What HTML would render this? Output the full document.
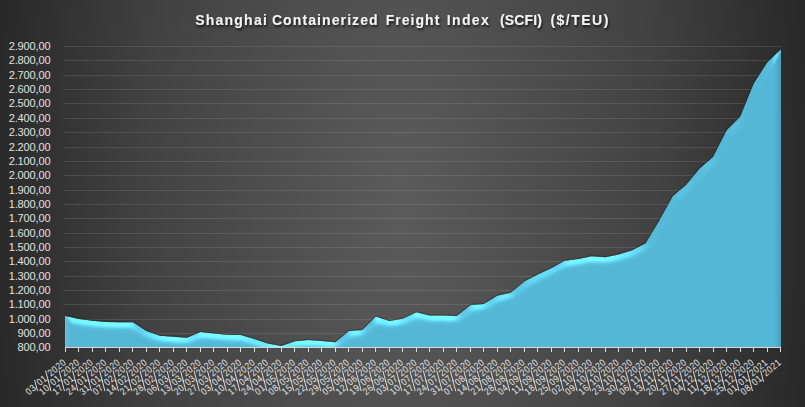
<!DOCTYPE html>
<html><head><meta charset="utf-8"><style>
html,body{margin:0;padding:0;width:805px;height:407px;overflow:hidden;background:#2a2a2a}
svg{display:block}
text{font-family:"Liberation Sans",sans-serif;stroke:none}

</style></head><body>
<svg width="805" height="407" viewBox="0 0 805 407">
<defs>
<radialGradient id="bg" cx="402" cy="203" r="430" gradientUnits="userSpaceOnUse" gradientTransform="translate(402,203) scale(1,2.0) translate(-402,-203)">
<stop offset="0" stop-color="#5b5b5b"/>
<stop offset="0.6" stop-color="#424242"/>
<stop offset="1" stop-color="#252525"/>
</radialGradient>
<filter id="tsh" x="-5%" y="-50%" width="110%" height="200%"><feGaussianBlur in="SourceAlpha" stdDeviation="1.2"/><feOffset dx="1" dy="1.5"/><feComponentTransfer><feFuncA type="linear" slope="0.7"/></feComponentTransfer><feMerge><feMergeNode/><feMergeNode in="SourceGraphic"/></feMerge></filter>
<filter id="bevel" x="-2%" y="-5%" width="104%" height="110%" color-interpolation-filters="sRGB">

<feGaussianBlur in="SourceAlpha" stdDeviation="4.0" result="b"/>
<feSpecularLighting in="b" surfaceScale="5.0" specularConstant="1.0" specularExponent="16.0" lighting-color="#80ffff" result="lit"><feDistantLight azimuth="270.0" elevation="10.0"/></feSpecularLighting>
<feComposite in="SourceGraphic" in2="lit" operator="arithmetic" k1="0" k2="1" k3="0.28" k4="0.0" result="sh"/>
<feComposite in="sh" in2="SourceAlpha" operator="in"/>
</filter>
<linearGradient id="rshade" x1="0" y1="0" x2="1" y2="0"><stop offset="0" stop-color="#000" stop-opacity="0"/><stop offset="1" stop-color="#000" stop-opacity="0.14"/></linearGradient>
<linearGradient id="lshade" x1="0" y1="0" x2="1" y2="0"><stop offset="0" stop-color="#fff" stop-opacity="0.12"/><stop offset="1" stop-color="#fff" stop-opacity="0"/></linearGradient>
<clipPath id="clipB"><rect x="0" y="0" width="805" height="347.5"/></clipPath>
<clipPath id="clipA"><path d="M65.0,347.6 L65.0,315.90 L65.50,315.90 78.99,318.91 92.48,320.77 105.97,321.92 119.46,322.21 132.95,322.21 146.44,331.10 159.93,335.69 173.42,336.70 186.92,337.70 200.41,331.96 213.90,333.54 227.39,334.83 240.88,334.98 254.37,338.99 267.86,343.58 281.35,345.88 294.84,341.29 308.33,340.00 321.82,341.00 335.31,342.15 348.80,331.10 362.29,329.96 375.78,316.61 389.27,320.92 402.76,318.77 416.25,312.31 429.75,315.47 443.24,315.47 456.73,316.04 470.22,305.14 483.71,303.99 497.20,295.67 510.69,292.66 524.18,281.61 537.67,274.44 551.16,268.27 564.65,260.81 578.14,258.95 591.63,256.22 605.12,257.23 618.61,254.50 632.10,250.34 645.59,243.17 659.08,220.64 672.58,196.26 686.07,184.78 699.56,168.57 713.05,156.66 726.54,130.13 740.03,116.64 753.52,83.65 767.01,62.56 780.50,49.51 L781.0,49.51 L781.0,347.6 Z"/></clipPath>
</defs>
<rect width="805" height="407" fill="url(#bg)"/>
<g font-size="14" font-weight="bold" fill="#f4f4f4" filter="url(#tsh)"><text y="25"><tspan x="195.2" letter-spacing="1.23">Shanghai</tspan><tspan x="271.9" letter-spacing="1.1">Containerized</tspan><tspan x="385.7" letter-spacing="1.03">Freight</tspan><tspan x="446.8" letter-spacing="1.35">Index</tspan><tspan x="500.1" letter-spacing="0.1">(SCFI)</tspan><tspan x="550.4" letter-spacing="1.5">($/TEU)</tspan></text></g>
<g stroke="#ffffff" stroke-opacity="0.11" stroke-width="1"><line x1="64" y1="333.5" x2="781" y2="333.5"/><line x1="64" y1="319.5" x2="781" y2="319.5"/><line x1="64" y1="304.5" x2="781" y2="304.5"/><line x1="64" y1="290.5" x2="781" y2="290.5"/><line x1="64" y1="276.5" x2="781" y2="276.5"/><line x1="64" y1="261.5" x2="781" y2="261.5"/><line x1="64" y1="247.5" x2="781" y2="247.5"/><line x1="64" y1="233.5" x2="781" y2="233.5"/><line x1="64" y1="218.5" x2="781" y2="218.5"/><line x1="64" y1="204.5" x2="781" y2="204.5"/><line x1="64" y1="190.5" x2="781" y2="190.5"/><line x1="64" y1="175.5" x2="781" y2="175.5"/><line x1="64" y1="161.5" x2="781" y2="161.5"/><line x1="64" y1="147.5" x2="781" y2="147.5"/><line x1="64" y1="132.5" x2="781" y2="132.5"/><line x1="64" y1="118.5" x2="781" y2="118.5"/><line x1="64" y1="103.5" x2="781" y2="103.5"/><line x1="64" y1="89.5" x2="781" y2="89.5"/><line x1="64" y1="75.5" x2="781" y2="75.5"/><line x1="64" y1="60.5" x2="781" y2="60.5"/><line x1="64" y1="46.5" x2="781" y2="46.5"/></g>
<g font-size="11" fill="#e2e2e2" text-anchor="end" letter-spacing="-0.12"><text x="50.5" y="351.30">800,00</text><text x="50.5" y="337.30">900,00</text><text x="50.5" y="323.30">1.000,00</text><text x="50.5" y="308.30">1.100,00</text><text x="50.5" y="294.30">1.200,00</text><text x="50.5" y="280.30">1.300,00</text><text x="50.5" y="265.30">1.400,00</text><text x="50.5" y="251.30">1.500,00</text><text x="50.5" y="237.30">1.600,00</text><text x="50.5" y="222.30">1.700,00</text><text x="50.5" y="208.30">1.800,00</text><text x="50.5" y="194.30">1.900,00</text><text x="50.5" y="179.30">2.000,00</text><text x="50.5" y="165.30">2.100,00</text><text x="50.5" y="151.30">2.200,00</text><text x="50.5" y="136.30">2.300,00</text><text x="50.5" y="122.30">2.400,00</text><text x="50.5" y="107.30">2.500,00</text><text x="50.5" y="93.30">2.600,00</text><text x="50.5" y="79.30">2.700,00</text><text x="50.5" y="64.30">2.800,00</text><text x="50.5" y="50.30">2.900,00</text></g>
<path d="M65.50,315.90 L78.99,318.91 L92.48,320.77 L105.97,321.92 L119.46,322.21 L132.95,322.21 L146.44,331.10 L159.93,335.69 L173.42,336.70 L186.92,337.70 L200.41,331.96 L213.90,333.54 L227.39,334.83 L240.88,334.98 L254.37,338.99 L267.86,343.58 L281.35,345.88 L294.84,341.29 L308.33,340.00 L321.82,341.00 L335.31,342.15 L348.80,331.10 L362.29,329.96 L375.78,316.61 L389.27,320.92 L402.76,318.77 L416.25,312.31 L429.75,315.47 L443.24,315.47 L456.73,316.04 L470.22,305.14 L483.71,303.99 L497.20,295.67 L510.69,292.66 L524.18,281.61 L537.67,274.44 L551.16,268.27 L564.65,260.81 L578.14,258.95 L591.63,256.22 L605.12,257.23 L618.61,254.50 L632.10,250.34 L645.59,243.17 L659.08,220.64 L672.58,196.26 L686.07,184.78 L699.56,168.57 L713.05,156.66 L726.54,130.13 L740.03,116.64 L753.52,83.65 L767.01,62.56 L780.50,49.51" transform="translate(0,-0.6)" fill="none" stroke="#1a1a1a" stroke-width="1.1" stroke-opacity="0.32"/>
<g clip-path="url(#clipB)"><path d="M65.0,370 L65.0,315.90 L65.50,315.90 78.99,318.91 92.48,320.77 105.97,321.92 119.46,322.21 132.95,322.21 146.44,331.10 159.93,335.69 173.42,336.70 186.92,337.70 200.41,331.96 213.90,333.54 227.39,334.83 240.88,334.98 254.37,338.99 267.86,343.58 281.35,345.88 294.84,341.29 308.33,340.00 321.82,341.00 335.31,342.15 348.80,331.10 362.29,329.96 375.78,316.61 389.27,320.92 402.76,318.77 416.25,312.31 429.75,315.47 443.24,315.47 456.73,316.04 470.22,305.14 483.71,303.99 497.20,295.67 510.69,292.66 524.18,281.61 537.67,274.44 551.16,268.27 564.65,260.81 578.14,258.95 591.63,256.22 605.12,257.23 618.61,254.50 632.10,250.34 645.59,243.17 659.08,220.64 672.58,196.26 686.07,184.78 699.56,168.57 713.05,156.66 726.54,130.13 740.03,116.64 753.52,83.65 767.01,62.56 780.50,49.51 L781.0,49.51 L781.0,370 Z" fill="#54b6d5" filter="url(#bevel)"/></g>
<g clip-path="url(#clipA)"><rect x="774" y="40" width="7.5" height="310" fill="url(#rshade)"/><rect x="64.5" y="300" width="6" height="50" fill="url(#lshade)"/></g>
<g stroke="#d9d9d9" stroke-width="1"><line x1="65" y1="347.5" x2="781" y2="347.5"/><line x1="65.5" y1="347" x2="65.5" y2="352"/><line x1="78.5" y1="347" x2="78.5" y2="352"/><line x1="92.5" y1="347" x2="92.5" y2="352"/><line x1="105.5" y1="347" x2="105.5" y2="352"/><line x1="119.5" y1="347" x2="119.5" y2="352"/><line x1="132.5" y1="347" x2="132.5" y2="352"/><line x1="146.5" y1="347" x2="146.5" y2="352"/><line x1="159.5" y1="347" x2="159.5" y2="352"/><line x1="173.5" y1="347" x2="173.5" y2="352"/><line x1="186.5" y1="347" x2="186.5" y2="352"/><line x1="200.5" y1="347" x2="200.5" y2="352"/><line x1="213.5" y1="347" x2="213.5" y2="352"/><line x1="227.5" y1="347" x2="227.5" y2="352"/><line x1="240.5" y1="347" x2="240.5" y2="352"/><line x1="254.5" y1="347" x2="254.5" y2="352"/><line x1="267.5" y1="347" x2="267.5" y2="352"/><line x1="281.5" y1="347" x2="281.5" y2="352"/><line x1="294.5" y1="347" x2="294.5" y2="352"/><line x1="308.5" y1="347" x2="308.5" y2="352"/><line x1="321.5" y1="347" x2="321.5" y2="352"/><line x1="335.5" y1="347" x2="335.5" y2="352"/><line x1="348.5" y1="347" x2="348.5" y2="352"/><line x1="362.5" y1="347" x2="362.5" y2="352"/><line x1="375.5" y1="347" x2="375.5" y2="352"/><line x1="389.5" y1="347" x2="389.5" y2="352"/><line x1="402.5" y1="347" x2="402.5" y2="352"/><line x1="416.5" y1="347" x2="416.5" y2="352"/><line x1="429.5" y1="347" x2="429.5" y2="352"/><line x1="443.5" y1="347" x2="443.5" y2="352"/><line x1="456.5" y1="347" x2="456.5" y2="352"/><line x1="470.5" y1="347" x2="470.5" y2="352"/><line x1="483.5" y1="347" x2="483.5" y2="352"/><line x1="497.5" y1="347" x2="497.5" y2="352"/><line x1="510.5" y1="347" x2="510.5" y2="352"/><line x1="524.5" y1="347" x2="524.5" y2="352"/><line x1="537.5" y1="347" x2="537.5" y2="352"/><line x1="551.5" y1="347" x2="551.5" y2="352"/><line x1="564.5" y1="347" x2="564.5" y2="352"/><line x1="578.5" y1="347" x2="578.5" y2="352"/><line x1="591.5" y1="347" x2="591.5" y2="352"/><line x1="605.5" y1="347" x2="605.5" y2="352"/><line x1="618.5" y1="347" x2="618.5" y2="352"/><line x1="632.5" y1="347" x2="632.5" y2="352"/><line x1="645.5" y1="347" x2="645.5" y2="352"/><line x1="659.5" y1="347" x2="659.5" y2="352"/><line x1="672.5" y1="347" x2="672.5" y2="352"/><line x1="686.5" y1="347" x2="686.5" y2="352"/><line x1="699.5" y1="347" x2="699.5" y2="352"/><line x1="713.5" y1="347" x2="713.5" y2="352"/><line x1="726.5" y1="347" x2="726.5" y2="352"/><line x1="740.5" y1="347" x2="740.5" y2="352"/><line x1="753.5" y1="347" x2="753.5" y2="352"/><line x1="767.5" y1="347" x2="767.5" y2="352"/><line x1="780.5" y1="347" x2="780.5" y2="352"/></g>
<g font-size="9.80" letter-spacing="0.692" fill="#e6e6e6" stroke="#dedede" stroke-width="0.95" text-anchor="end"><g transform="translate(66.55,363.8) rotate(-40.0)"><text transform="translate(0.59,0) scale(0.85,1)">2020</text><text transform="translate(-24.27,0) scale(0.85,1)">01</text><text transform="translate(-38.69,0) scale(0.85,1)">03</text><line x1="-25.32" y1="2.20" x2="-20.42" y2="-8.30"/><line x1="-39.74" y1="2.20" x2="-34.84" y2="-8.30"/></g><g transform="translate(80.04,363.8) rotate(-40.0)"><text transform="translate(0.59,0) scale(0.85,1)">2020</text><text transform="translate(-24.27,0) scale(0.85,1)">01</text><text transform="translate(-38.69,0) scale(0.85,1)">10</text><line x1="-25.32" y1="2.20" x2="-20.42" y2="-8.30"/><line x1="-39.74" y1="2.20" x2="-34.84" y2="-8.30"/></g><g transform="translate(93.53,363.8) rotate(-40.0)"><text transform="translate(0.59,0) scale(0.85,1)">2020</text><text transform="translate(-24.27,0) scale(0.85,1)">01</text><text transform="translate(-38.69,0) scale(0.85,1)">17</text><line x1="-25.32" y1="2.20" x2="-20.42" y2="-8.30"/><line x1="-39.74" y1="2.20" x2="-34.84" y2="-8.30"/></g><g transform="translate(107.02,363.8) rotate(-40.0)"><text transform="translate(0.59,0) scale(0.85,1)">2020</text><text transform="translate(-24.27,0) scale(0.85,1)">01</text><text transform="translate(-38.69,0) scale(0.85,1)">24</text><line x1="-25.32" y1="2.20" x2="-20.42" y2="-8.30"/><line x1="-39.74" y1="2.20" x2="-34.84" y2="-8.30"/></g><g transform="translate(120.51,363.8) rotate(-40.0)"><text transform="translate(0.59,0) scale(0.85,1)">2020</text><text transform="translate(-24.27,0) scale(0.85,1)">01</text><text transform="translate(-38.69,0) scale(0.85,1)">31</text><line x1="-25.32" y1="2.20" x2="-20.42" y2="-8.30"/><line x1="-39.74" y1="2.20" x2="-34.84" y2="-8.30"/></g><g transform="translate(134.00,363.8) rotate(-40.0)"><text transform="translate(0.59,0) scale(0.85,1)">2020</text><text transform="translate(-24.27,0) scale(0.85,1)">02</text><text transform="translate(-38.69,0) scale(0.85,1)">07</text><line x1="-25.32" y1="2.20" x2="-20.42" y2="-8.30"/><line x1="-39.74" y1="2.20" x2="-34.84" y2="-8.30"/></g><g transform="translate(147.49,363.8) rotate(-40.0)"><text transform="translate(0.59,0) scale(0.85,1)">2020</text><text transform="translate(-24.27,0) scale(0.85,1)">02</text><text transform="translate(-38.69,0) scale(0.85,1)">14</text><line x1="-25.32" y1="2.20" x2="-20.42" y2="-8.30"/><line x1="-39.74" y1="2.20" x2="-34.84" y2="-8.30"/></g><g transform="translate(160.98,363.8) rotate(-40.0)"><text transform="translate(0.59,0) scale(0.85,1)">2020</text><text transform="translate(-24.27,0) scale(0.85,1)">02</text><text transform="translate(-38.69,0) scale(0.85,1)">21</text><line x1="-25.32" y1="2.20" x2="-20.42" y2="-8.30"/><line x1="-39.74" y1="2.20" x2="-34.84" y2="-8.30"/></g><g transform="translate(174.47,363.8) rotate(-40.0)"><text transform="translate(0.59,0) scale(0.85,1)">2020</text><text transform="translate(-24.27,0) scale(0.85,1)">02</text><text transform="translate(-38.69,0) scale(0.85,1)">28</text><line x1="-25.32" y1="2.20" x2="-20.42" y2="-8.30"/><line x1="-39.74" y1="2.20" x2="-34.84" y2="-8.30"/></g><g transform="translate(187.97,363.8) rotate(-40.0)"><text transform="translate(0.59,0) scale(0.85,1)">2020</text><text transform="translate(-24.27,0) scale(0.85,1)">03</text><text transform="translate(-38.69,0) scale(0.85,1)">06</text><line x1="-25.32" y1="2.20" x2="-20.42" y2="-8.30"/><line x1="-39.74" y1="2.20" x2="-34.84" y2="-8.30"/></g><g transform="translate(201.46,363.8) rotate(-40.0)"><text transform="translate(0.59,0) scale(0.85,1)">2020</text><text transform="translate(-24.27,0) scale(0.85,1)">03</text><text transform="translate(-38.69,0) scale(0.85,1)">13</text><line x1="-25.32" y1="2.20" x2="-20.42" y2="-8.30"/><line x1="-39.74" y1="2.20" x2="-34.84" y2="-8.30"/></g><g transform="translate(214.95,363.8) rotate(-40.0)"><text transform="translate(0.59,0) scale(0.85,1)">2020</text><text transform="translate(-24.27,0) scale(0.85,1)">03</text><text transform="translate(-38.69,0) scale(0.85,1)">20</text><line x1="-25.32" y1="2.20" x2="-20.42" y2="-8.30"/><line x1="-39.74" y1="2.20" x2="-34.84" y2="-8.30"/></g><g transform="translate(228.44,363.8) rotate(-40.0)"><text transform="translate(0.59,0) scale(0.85,1)">2020</text><text transform="translate(-24.27,0) scale(0.85,1)">03</text><text transform="translate(-38.69,0) scale(0.85,1)">27</text><line x1="-25.32" y1="2.20" x2="-20.42" y2="-8.30"/><line x1="-39.74" y1="2.20" x2="-34.84" y2="-8.30"/></g><g transform="translate(241.93,363.8) rotate(-40.0)"><text transform="translate(0.59,0) scale(0.85,1)">2020</text><text transform="translate(-24.27,0) scale(0.85,1)">04</text><text transform="translate(-38.69,0) scale(0.85,1)">03</text><line x1="-25.32" y1="2.20" x2="-20.42" y2="-8.30"/><line x1="-39.74" y1="2.20" x2="-34.84" y2="-8.30"/></g><g transform="translate(255.42,363.8) rotate(-40.0)"><text transform="translate(0.59,0) scale(0.85,1)">2020</text><text transform="translate(-24.27,0) scale(0.85,1)">04</text><text transform="translate(-38.69,0) scale(0.85,1)">10</text><line x1="-25.32" y1="2.20" x2="-20.42" y2="-8.30"/><line x1="-39.74" y1="2.20" x2="-34.84" y2="-8.30"/></g><g transform="translate(268.91,363.8) rotate(-40.0)"><text transform="translate(0.59,0) scale(0.85,1)">2020</text><text transform="translate(-24.27,0) scale(0.85,1)">04</text><text transform="translate(-38.69,0) scale(0.85,1)">17</text><line x1="-25.32" y1="2.20" x2="-20.42" y2="-8.30"/><line x1="-39.74" y1="2.20" x2="-34.84" y2="-8.30"/></g><g transform="translate(282.40,363.8) rotate(-40.0)"><text transform="translate(0.59,0) scale(0.85,1)">2020</text><text transform="translate(-24.27,0) scale(0.85,1)">04</text><text transform="translate(-38.69,0) scale(0.85,1)">24</text><line x1="-25.32" y1="2.20" x2="-20.42" y2="-8.30"/><line x1="-39.74" y1="2.20" x2="-34.84" y2="-8.30"/></g><g transform="translate(295.89,363.8) rotate(-40.0)"><text transform="translate(0.59,0) scale(0.85,1)">2020</text><text transform="translate(-24.27,0) scale(0.85,1)">05</text><text transform="translate(-38.69,0) scale(0.85,1)">01</text><line x1="-25.32" y1="2.20" x2="-20.42" y2="-8.30"/><line x1="-39.74" y1="2.20" x2="-34.84" y2="-8.30"/></g><g transform="translate(309.38,363.8) rotate(-40.0)"><text transform="translate(0.59,0) scale(0.85,1)">2020</text><text transform="translate(-24.27,0) scale(0.85,1)">05</text><text transform="translate(-38.69,0) scale(0.85,1)">08</text><line x1="-25.32" y1="2.20" x2="-20.42" y2="-8.30"/><line x1="-39.74" y1="2.20" x2="-34.84" y2="-8.30"/></g><g transform="translate(322.87,363.8) rotate(-40.0)"><text transform="translate(0.59,0) scale(0.85,1)">2020</text><text transform="translate(-24.27,0) scale(0.85,1)">05</text><text transform="translate(-38.69,0) scale(0.85,1)">15</text><line x1="-25.32" y1="2.20" x2="-20.42" y2="-8.30"/><line x1="-39.74" y1="2.20" x2="-34.84" y2="-8.30"/></g><g transform="translate(336.36,363.8) rotate(-40.0)"><text transform="translate(0.59,0) scale(0.85,1)">2020</text><text transform="translate(-24.27,0) scale(0.85,1)">05</text><text transform="translate(-38.69,0) scale(0.85,1)">22</text><line x1="-25.32" y1="2.20" x2="-20.42" y2="-8.30"/><line x1="-39.74" y1="2.20" x2="-34.84" y2="-8.30"/></g><g transform="translate(349.85,363.8) rotate(-40.0)"><text transform="translate(0.59,0) scale(0.85,1)">2020</text><text transform="translate(-24.27,0) scale(0.85,1)">05</text><text transform="translate(-38.69,0) scale(0.85,1)">29</text><line x1="-25.32" y1="2.20" x2="-20.42" y2="-8.30"/><line x1="-39.74" y1="2.20" x2="-34.84" y2="-8.30"/></g><g transform="translate(363.34,363.8) rotate(-40.0)"><text transform="translate(0.59,0) scale(0.85,1)">2020</text><text transform="translate(-24.27,0) scale(0.85,1)">06</text><text transform="translate(-38.69,0) scale(0.85,1)">05</text><line x1="-25.32" y1="2.20" x2="-20.42" y2="-8.30"/><line x1="-39.74" y1="2.20" x2="-34.84" y2="-8.30"/></g><g transform="translate(376.83,363.8) rotate(-40.0)"><text transform="translate(0.59,0) scale(0.85,1)">2020</text><text transform="translate(-24.27,0) scale(0.85,1)">06</text><text transform="translate(-38.69,0) scale(0.85,1)">12</text><line x1="-25.32" y1="2.20" x2="-20.42" y2="-8.30"/><line x1="-39.74" y1="2.20" x2="-34.84" y2="-8.30"/></g><g transform="translate(390.32,363.8) rotate(-40.0)"><text transform="translate(0.59,0) scale(0.85,1)">2020</text><text transform="translate(-24.27,0) scale(0.85,1)">06</text><text transform="translate(-38.69,0) scale(0.85,1)">19</text><line x1="-25.32" y1="2.20" x2="-20.42" y2="-8.30"/><line x1="-39.74" y1="2.20" x2="-34.84" y2="-8.30"/></g><g transform="translate(403.81,363.8) rotate(-40.0)"><text transform="translate(0.59,0) scale(0.85,1)">2020</text><text transform="translate(-24.27,0) scale(0.85,1)">06</text><text transform="translate(-38.69,0) scale(0.85,1)">26</text><line x1="-25.32" y1="2.20" x2="-20.42" y2="-8.30"/><line x1="-39.74" y1="2.20" x2="-34.84" y2="-8.30"/></g><g transform="translate(417.30,363.8) rotate(-40.0)"><text transform="translate(0.59,0) scale(0.85,1)">2020</text><text transform="translate(-24.27,0) scale(0.85,1)">07</text><text transform="translate(-38.69,0) scale(0.85,1)">03</text><line x1="-25.32" y1="2.20" x2="-20.42" y2="-8.30"/><line x1="-39.74" y1="2.20" x2="-34.84" y2="-8.30"/></g><g transform="translate(430.80,363.8) rotate(-40.0)"><text transform="translate(0.59,0) scale(0.85,1)">2020</text><text transform="translate(-24.27,0) scale(0.85,1)">07</text><text transform="translate(-38.69,0) scale(0.85,1)">10</text><line x1="-25.32" y1="2.20" x2="-20.42" y2="-8.30"/><line x1="-39.74" y1="2.20" x2="-34.84" y2="-8.30"/></g><g transform="translate(444.29,363.8) rotate(-40.0)"><text transform="translate(0.59,0) scale(0.85,1)">2020</text><text transform="translate(-24.27,0) scale(0.85,1)">07</text><text transform="translate(-38.69,0) scale(0.85,1)">17</text><line x1="-25.32" y1="2.20" x2="-20.42" y2="-8.30"/><line x1="-39.74" y1="2.20" x2="-34.84" y2="-8.30"/></g><g transform="translate(457.78,363.8) rotate(-40.0)"><text transform="translate(0.59,0) scale(0.85,1)">2020</text><text transform="translate(-24.27,0) scale(0.85,1)">07</text><text transform="translate(-38.69,0) scale(0.85,1)">24</text><line x1="-25.32" y1="2.20" x2="-20.42" y2="-8.30"/><line x1="-39.74" y1="2.20" x2="-34.84" y2="-8.30"/></g><g transform="translate(471.27,363.8) rotate(-40.0)"><text transform="translate(0.59,0) scale(0.85,1)">2020</text><text transform="translate(-24.27,0) scale(0.85,1)">07</text><text transform="translate(-38.69,0) scale(0.85,1)">31</text><line x1="-25.32" y1="2.20" x2="-20.42" y2="-8.30"/><line x1="-39.74" y1="2.20" x2="-34.84" y2="-8.30"/></g><g transform="translate(484.76,363.8) rotate(-40.0)"><text transform="translate(0.59,0) scale(0.85,1)">2020</text><text transform="translate(-24.27,0) scale(0.85,1)">08</text><text transform="translate(-38.69,0) scale(0.85,1)">07</text><line x1="-25.32" y1="2.20" x2="-20.42" y2="-8.30"/><line x1="-39.74" y1="2.20" x2="-34.84" y2="-8.30"/></g><g transform="translate(498.25,363.8) rotate(-40.0)"><text transform="translate(0.59,0) scale(0.85,1)">2020</text><text transform="translate(-24.27,0) scale(0.85,1)">08</text><text transform="translate(-38.69,0) scale(0.85,1)">14</text><line x1="-25.32" y1="2.20" x2="-20.42" y2="-8.30"/><line x1="-39.74" y1="2.20" x2="-34.84" y2="-8.30"/></g><g transform="translate(511.74,363.8) rotate(-40.0)"><text transform="translate(0.59,0) scale(0.85,1)">2020</text><text transform="translate(-24.27,0) scale(0.85,1)">08</text><text transform="translate(-38.69,0) scale(0.85,1)">21</text><line x1="-25.32" y1="2.20" x2="-20.42" y2="-8.30"/><line x1="-39.74" y1="2.20" x2="-34.84" y2="-8.30"/></g><g transform="translate(525.23,363.8) rotate(-40.0)"><text transform="translate(0.59,0) scale(0.85,1)">2020</text><text transform="translate(-24.27,0) scale(0.85,1)">08</text><text transform="translate(-38.69,0) scale(0.85,1)">28</text><line x1="-25.32" y1="2.20" x2="-20.42" y2="-8.30"/><line x1="-39.74" y1="2.20" x2="-34.84" y2="-8.30"/></g><g transform="translate(538.72,363.8) rotate(-40.0)"><text transform="translate(0.59,0) scale(0.85,1)">2020</text><text transform="translate(-24.27,0) scale(0.85,1)">09</text><text transform="translate(-38.69,0) scale(0.85,1)">04</text><line x1="-25.32" y1="2.20" x2="-20.42" y2="-8.30"/><line x1="-39.74" y1="2.20" x2="-34.84" y2="-8.30"/></g><g transform="translate(552.21,363.8) rotate(-40.0)"><text transform="translate(0.59,0) scale(0.85,1)">2020</text><text transform="translate(-24.27,0) scale(0.85,1)">09</text><text transform="translate(-38.69,0) scale(0.85,1)">11</text><line x1="-25.32" y1="2.20" x2="-20.42" y2="-8.30"/><line x1="-39.74" y1="2.20" x2="-34.84" y2="-8.30"/></g><g transform="translate(565.70,363.8) rotate(-40.0)"><text transform="translate(0.59,0) scale(0.85,1)">2020</text><text transform="translate(-24.27,0) scale(0.85,1)">09</text><text transform="translate(-38.69,0) scale(0.85,1)">18</text><line x1="-25.32" y1="2.20" x2="-20.42" y2="-8.30"/><line x1="-39.74" y1="2.20" x2="-34.84" y2="-8.30"/></g><g transform="translate(579.19,363.8) rotate(-40.0)"><text transform="translate(0.59,0) scale(0.85,1)">2020</text><text transform="translate(-24.27,0) scale(0.85,1)">09</text><text transform="translate(-38.69,0) scale(0.85,1)">25</text><line x1="-25.32" y1="2.20" x2="-20.42" y2="-8.30"/><line x1="-39.74" y1="2.20" x2="-34.84" y2="-8.30"/></g><g transform="translate(592.68,363.8) rotate(-40.0)"><text transform="translate(0.59,0) scale(0.85,1)">2020</text><text transform="translate(-24.27,0) scale(0.85,1)">10</text><text transform="translate(-38.69,0) scale(0.85,1)">02</text><line x1="-25.32" y1="2.20" x2="-20.42" y2="-8.30"/><line x1="-39.74" y1="2.20" x2="-34.84" y2="-8.30"/></g><g transform="translate(606.17,363.8) rotate(-40.0)"><text transform="translate(0.59,0) scale(0.85,1)">2020</text><text transform="translate(-24.27,0) scale(0.85,1)">10</text><text transform="translate(-38.69,0) scale(0.85,1)">09</text><line x1="-25.32" y1="2.20" x2="-20.42" y2="-8.30"/><line x1="-39.74" y1="2.20" x2="-34.84" y2="-8.30"/></g><g transform="translate(619.66,363.8) rotate(-40.0)"><text transform="translate(0.59,0) scale(0.85,1)">2020</text><text transform="translate(-24.27,0) scale(0.85,1)">10</text><text transform="translate(-38.69,0) scale(0.85,1)">16</text><line x1="-25.32" y1="2.20" x2="-20.42" y2="-8.30"/><line x1="-39.74" y1="2.20" x2="-34.84" y2="-8.30"/></g><g transform="translate(633.15,363.8) rotate(-40.0)"><text transform="translate(0.59,0) scale(0.85,1)">2020</text><text transform="translate(-24.27,0) scale(0.85,1)">10</text><text transform="translate(-38.69,0) scale(0.85,1)">23</text><line x1="-25.32" y1="2.20" x2="-20.42" y2="-8.30"/><line x1="-39.74" y1="2.20" x2="-34.84" y2="-8.30"/></g><g transform="translate(646.64,363.8) rotate(-40.0)"><text transform="translate(0.59,0) scale(0.85,1)">2020</text><text transform="translate(-24.27,0) scale(0.85,1)">10</text><text transform="translate(-38.69,0) scale(0.85,1)">30</text><line x1="-25.32" y1="2.20" x2="-20.42" y2="-8.30"/><line x1="-39.74" y1="2.20" x2="-34.84" y2="-8.30"/></g><g transform="translate(660.13,363.8) rotate(-40.0)"><text transform="translate(0.59,0) scale(0.85,1)">2020</text><text transform="translate(-24.27,0) scale(0.85,1)">11</text><text transform="translate(-38.69,0) scale(0.85,1)">06</text><line x1="-25.32" y1="2.20" x2="-20.42" y2="-8.30"/><line x1="-39.74" y1="2.20" x2="-34.84" y2="-8.30"/></g><g transform="translate(673.63,363.8) rotate(-40.0)"><text transform="translate(0.59,0) scale(0.85,1)">2020</text><text transform="translate(-24.27,0) scale(0.85,1)">11</text><text transform="translate(-38.69,0) scale(0.85,1)">13</text><line x1="-25.32" y1="2.20" x2="-20.42" y2="-8.30"/><line x1="-39.74" y1="2.20" x2="-34.84" y2="-8.30"/></g><g transform="translate(687.12,363.8) rotate(-40.0)"><text transform="translate(0.59,0) scale(0.85,1)">2020</text><text transform="translate(-24.27,0) scale(0.85,1)">11</text><text transform="translate(-38.69,0) scale(0.85,1)">20</text><line x1="-25.32" y1="2.20" x2="-20.42" y2="-8.30"/><line x1="-39.74" y1="2.20" x2="-34.84" y2="-8.30"/></g><g transform="translate(700.61,363.8) rotate(-40.0)"><text transform="translate(0.59,0) scale(0.85,1)">2020</text><text transform="translate(-24.27,0) scale(0.85,1)">11</text><text transform="translate(-38.69,0) scale(0.85,1)">27</text><line x1="-25.32" y1="2.20" x2="-20.42" y2="-8.30"/><line x1="-39.74" y1="2.20" x2="-34.84" y2="-8.30"/></g><g transform="translate(714.10,363.8) rotate(-40.0)"><text transform="translate(0.59,0) scale(0.85,1)">2020</text><text transform="translate(-24.27,0) scale(0.85,1)">12</text><text transform="translate(-38.69,0) scale(0.85,1)">04</text><line x1="-25.32" y1="2.20" x2="-20.42" y2="-8.30"/><line x1="-39.74" y1="2.20" x2="-34.84" y2="-8.30"/></g><g transform="translate(727.59,363.8) rotate(-40.0)"><text transform="translate(0.59,0) scale(0.85,1)">2020</text><text transform="translate(-24.27,0) scale(0.85,1)">12</text><text transform="translate(-38.69,0) scale(0.85,1)">11</text><line x1="-25.32" y1="2.20" x2="-20.42" y2="-8.30"/><line x1="-39.74" y1="2.20" x2="-34.84" y2="-8.30"/></g><g transform="translate(741.08,363.8) rotate(-40.0)"><text transform="translate(0.59,0) scale(0.85,1)">2020</text><text transform="translate(-24.27,0) scale(0.85,1)">12</text><text transform="translate(-38.69,0) scale(0.85,1)">18</text><line x1="-25.32" y1="2.20" x2="-20.42" y2="-8.30"/><line x1="-39.74" y1="2.20" x2="-34.84" y2="-8.30"/></g><g transform="translate(754.57,363.8) rotate(-40.0)"><text transform="translate(0.59,0) scale(0.85,1)">2020</text><text transform="translate(-24.27,0) scale(0.85,1)">12</text><text transform="translate(-38.69,0) scale(0.85,1)">25</text><line x1="-25.32" y1="2.20" x2="-20.42" y2="-8.30"/><line x1="-39.74" y1="2.20" x2="-34.84" y2="-8.30"/></g><g transform="translate(768.06,363.8) rotate(-40.0)"><text transform="translate(0.59,0) scale(0.85,1)">2021</text><text transform="translate(-24.27,0) scale(0.85,1)">01</text><text transform="translate(-38.69,0) scale(0.85,1)">01</text><line x1="-25.32" y1="2.20" x2="-20.42" y2="-8.30"/><line x1="-39.74" y1="2.20" x2="-34.84" y2="-8.30"/></g><g transform="translate(781.55,363.8) rotate(-40.0)"><text transform="translate(0.59,0) scale(0.85,1)">2021</text><text transform="translate(-24.27,0) scale(0.85,1)">01</text><text transform="translate(-38.69,0) scale(0.85,1)">08</text><line x1="-25.32" y1="2.20" x2="-20.42" y2="-8.30"/><line x1="-39.74" y1="2.20" x2="-34.84" y2="-8.30"/></g></g>
</svg>
</body></html>
